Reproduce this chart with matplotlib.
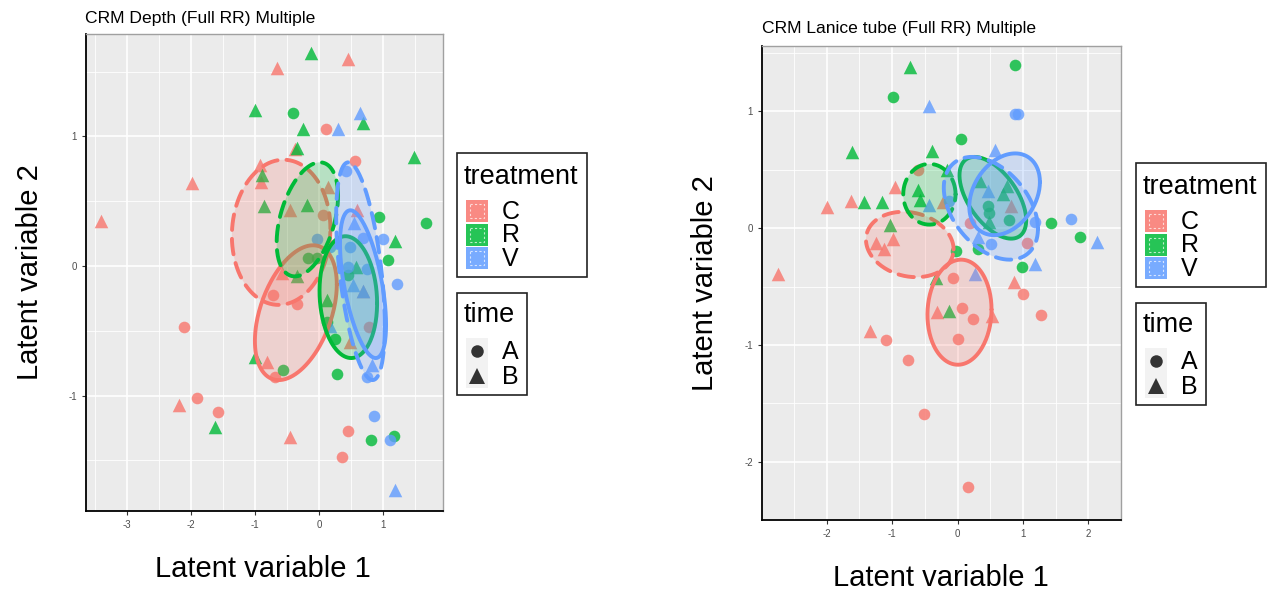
import numpy as np
import matplotlib
matplotlib.use('Agg')
import matplotlib.pyplot as plt
from matplotlib.patches import Rectangle

plt.rcParams['font.family'] = ['Liberation Sans', 'DejaVu Sans']
plt.rcParams['axes.unicode_minus'] = False

W, H = 1268, 594
COLORS = {'C': '#F8766D', 'R': '#00BA38', 'V': '#619CFF'}
MARKERS = {'A': 'o', 'B': '^'}

# --- CRM Depth: latent variable scores per treatment / time ---
depth_C_A_x = [-2.11, -1.91, -1.58, 0.45, 0.36, 0.11, 0.57, 0.06, -0.72, -0.34, -0.69, 0.78]
depth_C_A_y = [-0.47, -1.02, -1.13, -1.27, -1.47, 1.06, 0.81, 0.39, -0.22, -0.29, -0.86, -0.47]
depth_C_B_x = [-1.98, -3.41, 0.45, -0.66, -0.38, -0.92, -0.91, -0.45, 0.14, 0.59, -0.81, -2.19, -0.45, 0.48, 0.69, -0.58]
depth_C_B_y = [0.64, 0.35, 1.60, 1.53, 0.90, 0.78, 0.65, 0.43, 0.61, 0.43, -0.74, -1.07, -1.32, -0.59, -0.19, -0.05]
depth_R_A_x = [-0.41, 0.94, 1.67, 1.08, 0.28, -0.56, 0.81, 1.17, 0.12, 0.25, -0.17, -0.03, 0.45]
depth_R_A_y = [1.18, 0.38, 0.33, 0.05, -0.83, -0.80, -1.34, -1.31, -0.43, -0.56, 0.06, 0.06, -0.07]
depth_R_B_x = [-1.00, -0.12, -0.25, 0.69, -0.34, 1.48, 1.19, -0.89, -0.86, -0.19, 0.58, -0.34, 0.13, -1.00, -1.63]
depth_R_B_y = [1.20, 1.64, 1.06, 1.10, 0.91, 0.84, 0.19, 0.70, 0.46, 0.47, -0.01, -0.08, -0.26, -0.70, -1.24]
depth_V_A_x = [1.00, 1.22, 0.86, 1.11, 0.75, -0.03, 0.42, 0.69, 0.17, 0.48, 0.45, 0.75]
depth_V_A_y = [0.21, -0.14, -1.16, -1.34, -0.86, 0.21, 0.73, 0.22, 0.15, 0.15, -0.01, -0.02]
depth_V_B_x = [0.30, 0.64, 1.19, 0.83, 0.55, 0.53, 0.69, 0.17]
depth_V_B_y = [1.06, 1.18, -1.73, -0.76, 0.33, -0.15, -0.19, -0.46]

# --- CRM Lanice tube ---
lanice_C_A_x = [-0.60, -1.10, -0.75, -0.52, -0.07, 1.00, 1.28, 0.07, 0.24, 0.01, 0.16, 1.07, 0.19]
lanice_C_A_y = [0.50, -0.96, -1.13, -1.59, -0.43, -0.56, -0.74, -0.68, -0.78, -0.95, -2.22, -0.13, 0.04]
lanice_C_B_x = [-0.96, -1.63, -1.99, -0.99, -1.25, -1.12, -2.75, -1.34, 0.87, -0.31, 0.52, 0.82, -0.22]
lanice_C_B_y = [0.35, 0.23, 0.18, -0.09, -0.13, -0.18, -0.39, -0.88, -0.46, -0.72, -0.75, 0.19, 0.22]
lanice_R_A_x = [-0.99, 0.88, 0.06, 0.46, 0.48, 0.79, 1.43, 1.88, 0.98, 0.31, -0.03]
lanice_R_A_y = [1.12, 1.40, 0.76, 0.19, 0.13, 0.07, 0.04, -0.08, -0.33, -0.18, -0.20]
lanice_R_B_x = [-0.72, -1.61, -0.39, -0.61, -0.58, -1.43, -1.16, -1.04, -0.13, 0.34, 0.75, 0.48, -0.16, -0.33, 0.69]
lanice_R_B_y = [1.38, 0.65, 0.66, 0.33, 0.24, 0.22, 0.22, 0.03, -0.71, 0.40, 0.36, 0.05, 0.50, -0.43, 0.29]
lanice_V_A_x = [0.88, 0.93, 1.73, 1.19, 0.51, -0.13]
lanice_V_A_y = [0.98, 0.98, 0.08, 0.05, -0.14, 0.23]
lanice_V_B_x = [-0.43, 0.58, -0.43, 0.46, 2.13, 1.19, 0.31, 0.27]
lanice_V_B_y = [1.05, 0.67, 0.20, 0.32, -0.12, -0.31, -0.08, -0.39]

# ellipse summaries: centre x, centre y, half-range x, half-range y, correlation
depth_ellipses = {
    ('C', 'A'): (-0.36, -0.36, 0.64, 0.52, 0.42),
    ('C', 'B'): (-0.59, 0.26, 0.77, 0.56, 0.05),
    ('R', 'A'): (0.46, -0.24, 0.45, 0.47, -0.10),
    ('R', 'B'): (-0.18, 0.36, 0.48, 0.44, 0.41),
    ('V', 'A'): (0.69, -0.14, 0.36, 0.57, -0.55),
    ('V', 'B'): (0.65, -0.04, 0.38, 0.84, -0.50),
}
lanice_ellipses = {
    ('C', 'A'): (0.03, -0.72, 0.49, 0.45, 0.05),
    ('C', 'B'): (-0.73, -0.14, 0.67, 0.28, -0.15),
    ('R', 'A'): (0.54, 0.26, 0.51, 0.35, -0.55),
    ('R', 'B'): (-0.43, 0.29, 0.40, 0.26, 0.0),
    ('V', 'A'): (0.72, 0.29, 0.54, 0.35, 0.30),
    ('V', 'B'): (0.51, 0.17, 0.72, 0.44, -0.40),
}

depth_points = {
    ('C', 'A'): (depth_C_A_x, depth_C_A_y), ('C', 'B'): (depth_C_B_x, depth_C_B_y),
    ('R', 'A'): (depth_R_A_x, depth_R_A_y), ('R', 'B'): (depth_R_B_x, depth_R_B_y),
    ('V', 'A'): (depth_V_A_x, depth_V_A_y), ('V', 'B'): (depth_V_B_x, depth_V_B_y),
}
lanice_points = {
    ('C', 'A'): (lanice_C_A_x, lanice_C_A_y), ('C', 'B'): (lanice_C_B_x, lanice_C_B_y),
    ('R', 'A'): (lanice_R_A_x, lanice_R_A_y), ('R', 'B'): (lanice_R_B_x, lanice_R_B_y),
    ('V', 'A'): (lanice_V_A_x, lanice_V_A_y), ('V', 'B'): (lanice_V_B_x, lanice_V_B_y),
}


def ellipse_path(cx, cy, sx, sy, rho, n=200):
    t = np.linspace(0, 2 * np.pi, n)
    x = cx + sx * np.cos(t)
    y = cy + sy * (rho * np.cos(t) + np.sqrt(1 - rho ** 2) * np.sin(t))
    return x, y


def px_rect(l, t, r, b):
    return [l / W, 1 - b / H, (r - l) / W, (b - t) / H]


def draw_panel(ax, points, ellipses, xlim, ylim, xticks, yticks):
    ax.set_facecolor('#EBEBEB')
    ax.set_xlim(*xlim)
    ax.set_ylim(*ylim)
    ax.set_xticks(xticks)
    ax.set_yticks(yticks)
    ax.set_xticks([v + 0.5 for v in xticks[:-1]] + [xticks[0] - 0.5, xticks[-1] + 0.5], minor=True)
    ax.set_yticks([v + 0.5 for v in yticks[:-1]] + [yticks[0] - 0.5, yticks[-1] + 0.5], minor=True)
    ax.grid(True, which='major', color='white', lw=1.2)
    ax.grid(True, which='minor', color='white', lw=0.6)
    ax.set_axisbelow(True)
    ax.tick_params(which='major', labelsize=7, labelcolor='#4D4D4D', length=3, color='#333333')
    ax.tick_params(which='minor', length=0)
    for s in ('left', 'bottom'):
        ax.spines[s].set_color('black')
        ax.spines[s].set_linewidth(1.3)
    for s in ('top', 'right'):
        ax.spines[s].set_color('#A0A0A0')
        ax.spines[s].set_linewidth(1.0)

    for (trt, tm), (xs, ys) in points.items():
        ax.scatter(xs, ys, marker=MARKERS[tm], s=95 if tm == 'B' else 70,
                   color=COLORS[trt], alpha=0.8, linewidths=0, zorder=3)

    for trt in ('C', 'R', 'V'):
        for tm in ('A', 'B'):
            ex, ey = ellipse_path(*ellipses[(trt, tm)])
            ax.fill(ex, ey, color=COLORS[trt], alpha=0.22, lw=0, zorder=4)
            ls = '-' if tm == 'A' else (0, (4, 2.3))
            ax.plot(ex, ey, color=COLORS[trt], lw=2.8, ls=ls, zorder=4,
                    solid_capstyle='round', dash_capstyle='round')


fig = plt.figure(figsize=(W / 100, H / 100), dpi=100)
fig.patch.set_facecolor('white')

ax1 = fig.add_axes(px_rect(86, 34, 443, 511))
draw_panel(ax1, depth_points, depth_ellipses, (-3.64, 1.94), (-1.89, 1.79),
           [-3, -2, -1, 0, 1], [-1, 0, 1])
ax2 = fig.add_axes(px_rect(762, 46, 1121, 520))
draw_panel(ax2, lanice_points, lanice_ellipses, (-2.99, 2.37), (-2.39, 1.56),
           [-2, -1, 0, 1, 2], [-2, -1, 0, 1])

# overlay in pixel coordinates for titles, axis labels and legends
ov = fig.add_axes([0, 0, 1, 1], zorder=10)
ov.set_xlim(0, W)
ov.set_ylim(H, 0)
ov.axis('off')
ov.patch.set_alpha(0)

ov.text(85, 18, 'CRM Depth (Full RR) Multiple', fontsize=12.6, va='center', ha='left')
ov.text(762, 28, 'CRM Lanice tube (Full RR) Multiple', fontsize=12.6, va='center', ha='left')
ov.text(263, 569, 'Latent variable 1', fontsize=21, ha='center', va='center')
ov.text(941, 578, 'Latent variable 1', fontsize=21, ha='center', va='center')
ov.text(30, 272, 'Latent variable 2', fontsize=21, ha='center', va='center', rotation=90)
ov.text(705, 283, 'Latent variable 2', fontsize=21, ha='center', va='center', rotation=90)


def draw_legends(x0, y0):
    ov.add_patch(Rectangle((x0, y0), 130, 124, fill=False, ec='#222222', lw=1.2))
    ov.text(x0 + 7, y0 + 24, 'treatment', fontsize=19.5, va='center', ha='left')
    for i, trt in enumerate(('C', 'R', 'V')):
        ky = y0 + 47 + i * 23.5
        ov.add_patch(Rectangle((x0 + 9, ky), 22, 22, fc=COLORS[trt], ec='none', alpha=0.85))
        ov.add_patch(Rectangle((x0 + 13, ky + 4), 14, 14, fill=False, ec='white',
                               lw=0.8, ls=(0, (2, 2)), alpha=0.7))
        ov.text(x0 + 45, ky + 12, trt, fontsize=18, va='center', ha='left')

    ty = y0 + 140
    ov.add_patch(Rectangle((x0, ty), 70, 102, fill=False, ec='#222222', lw=1.2))
    ov.text(x0 + 7, ty + 22, 'time', fontsize=19.5, va='center', ha='left')
    ov.add_patch(Rectangle((x0 + 9, ty + 45), 22, 50, fc='#F2F2F2', ec='none'))
    for i, tm in enumerate(('A', 'B')):
        ky = ty + 58 + i * 25
        ov.plot([x0 + 20], [ky], marker=MARKERS[tm], ms=9 if tm == 'A' else 11,
                color='#333333', mew=0)
        ov.text(x0 + 45, ky + 1, tm, fontsize=18, va='center', ha='left')


draw_legends(457, 153)
draw_legends(1136, 163)

fig.savefig('out.png', dpi=100)
